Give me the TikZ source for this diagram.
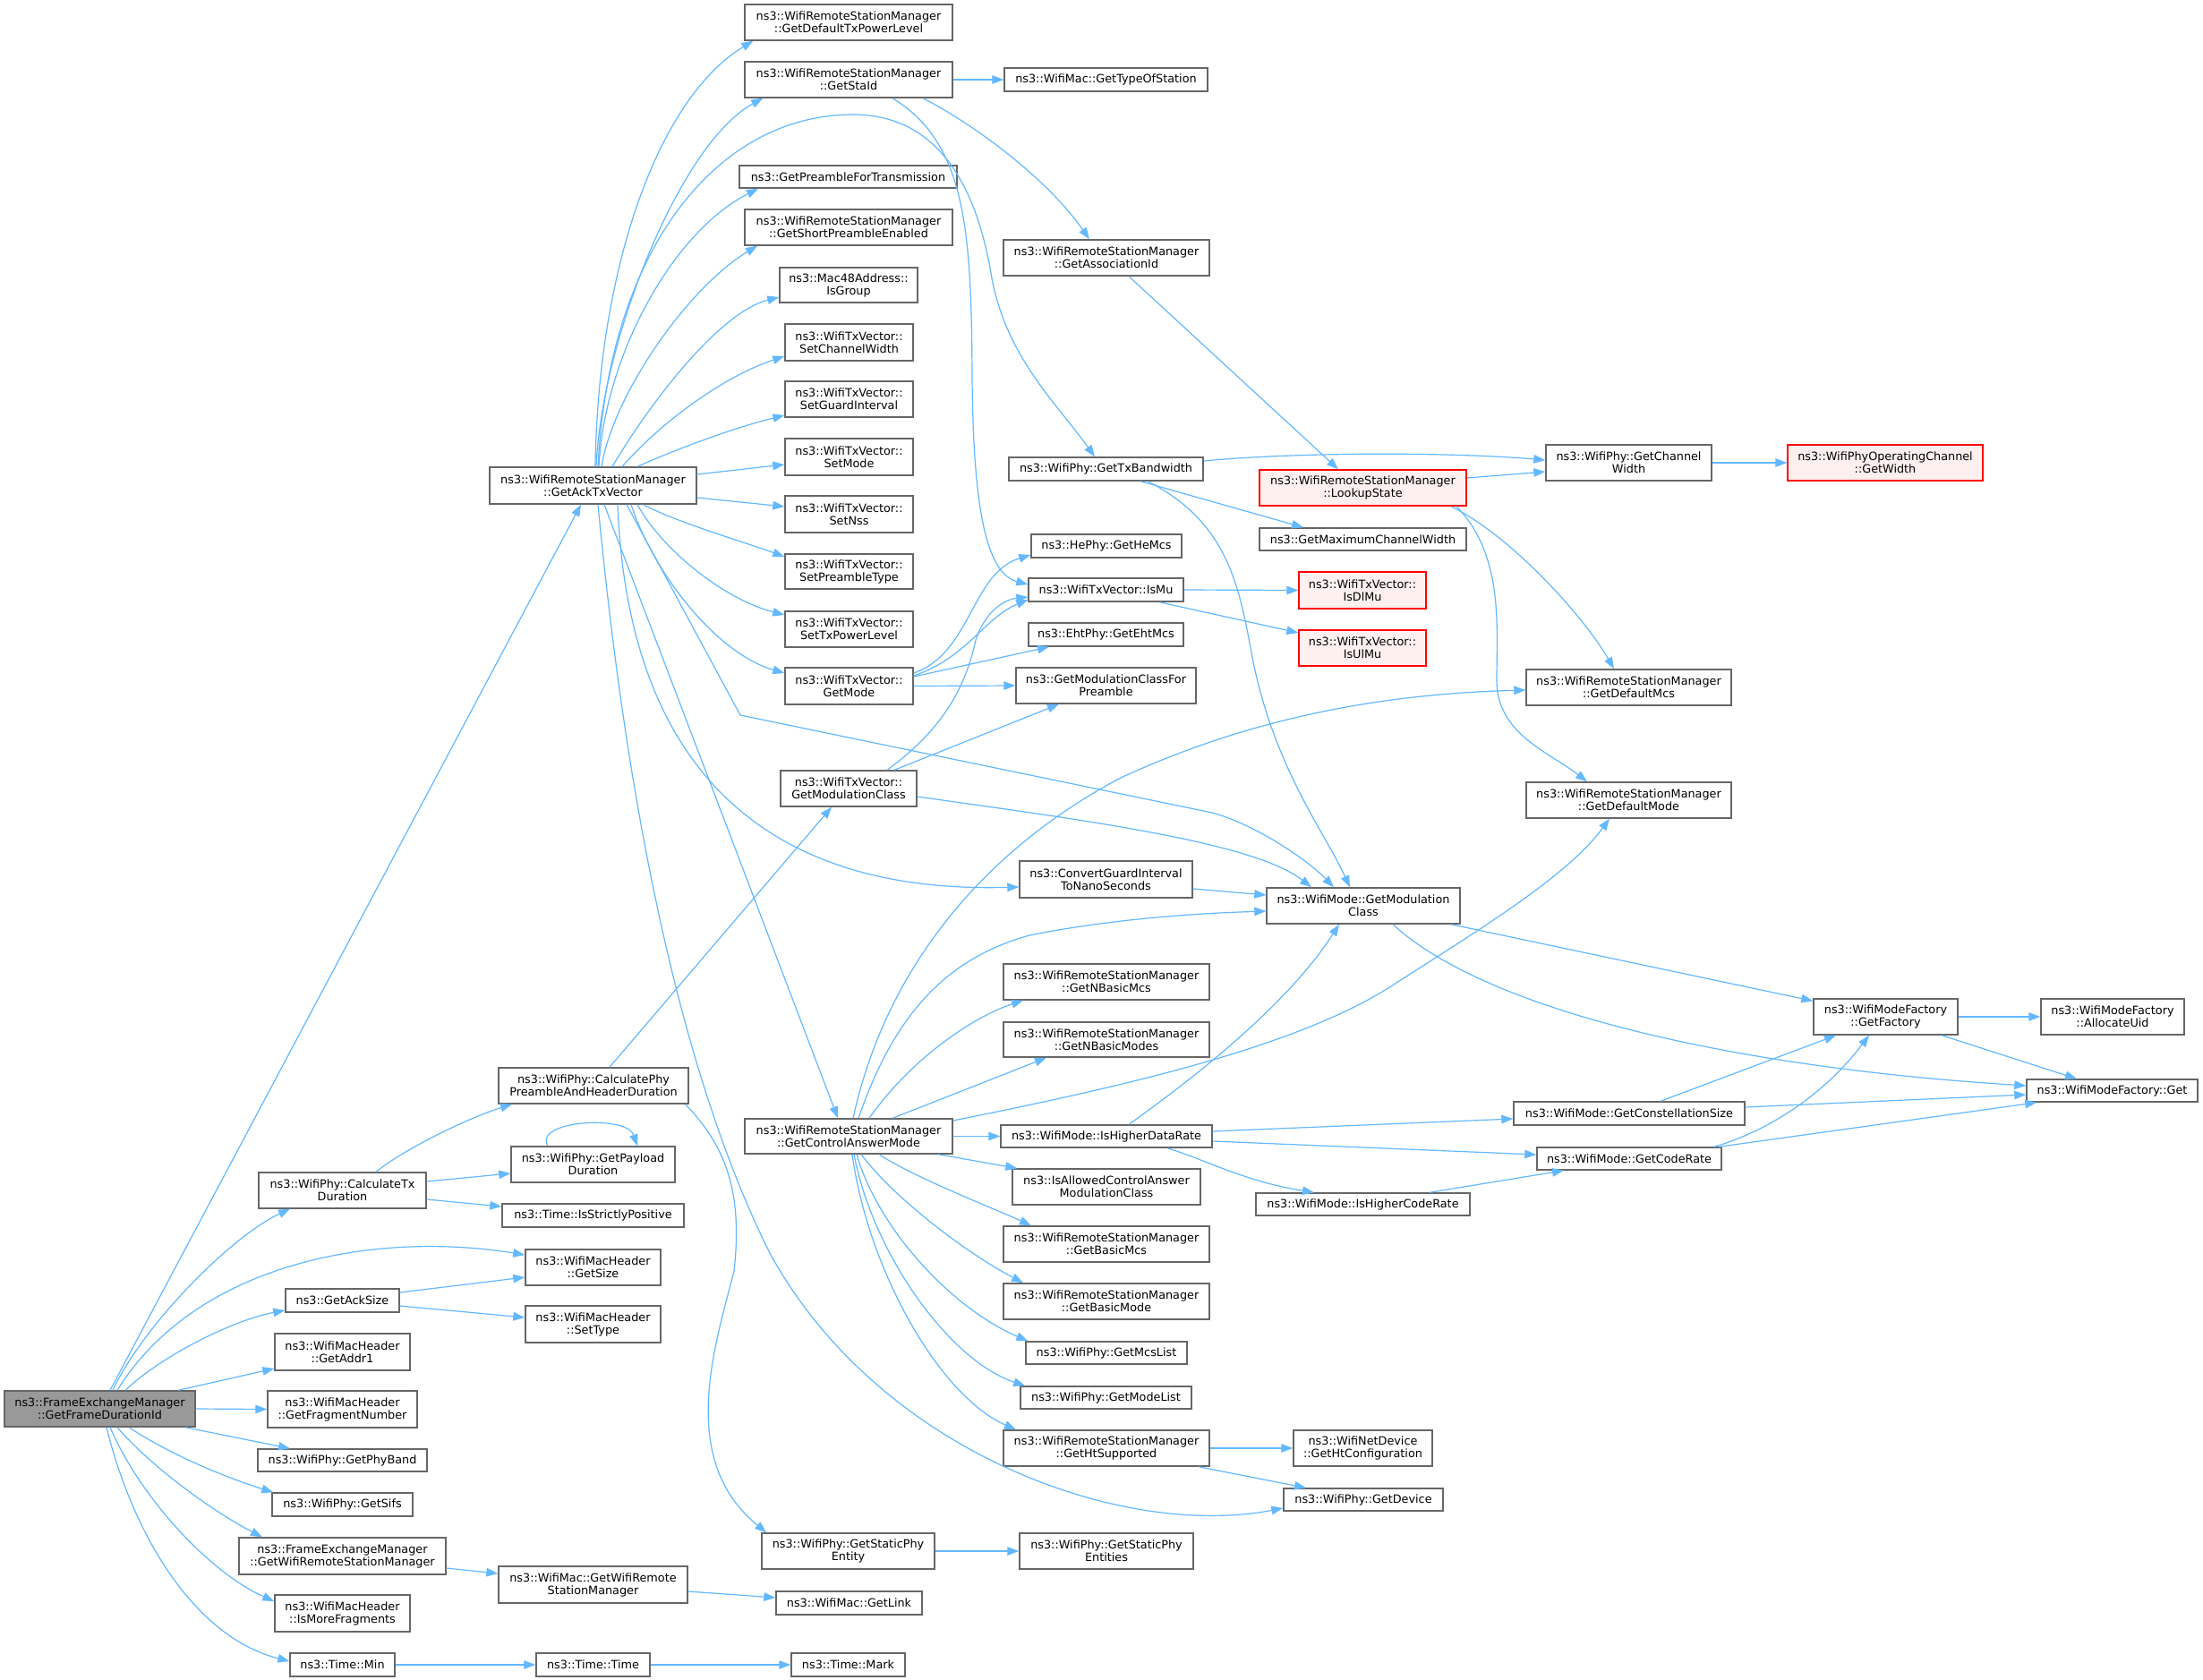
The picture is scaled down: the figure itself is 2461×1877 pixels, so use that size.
\documentclass[tikz,border=0pt]{standalone}
\usepackage{fontspec}
\setmainfont{DejaVu Sans}
\usetikzlibrary{arrows.meta}
\definecolor{edgeblue}{HTML}{63B8FF}
\definecolor{boxgray}{HTML}{666666}
\definecolor{rootgray}{HTML}{999999}
\definecolor{redfill}{HTML}{FFF0F0}
\tikzset{
  box/.style={draw=boxgray, fill=white, line width=1.4pt, inner sep=0pt, align=center,
    font=\fontsize{12.8pt}{14pt}\selectfont},
  redbox/.style={box, draw=red},
  redboxf/.style={box, draw=red, fill=redfill},
  rootbox/.style={box, fill=rootgray},
  edge/.style={draw=edgeblue, line width=1.2pt, -{Triangle[length=13pt,width=9.5pt]}}
}
\newcommand{\nd}[7][box]{\node[#1,minimum width={#5-#3},minimum height={#6-#4}] (#2) at ({(#3+#5)/2},{(#4+#6)/2}) {#7};}
\begin{document}
\begin{tikzpicture}[x=1pt,y=-1pt]
\useasboundingbox[fill=white] (0,0) rectangle (2461,1877);
% column 1
\nd[rootbox]{fdi}{5}{1554}{218}{1594}{ns3::FrameExchangeManager\\::GetFrameDurationId}
% column 2
\nd{ctd}{289}{1310}{476}{1350}{ns3::WifiPhy::CalculateTx\\Duration}
\nd{gas}{319}{1440}{446}{1466}{ns3::GetAckSize}
\nd{ga1}{307}{1490}{458}{1531}{ns3::WifiMacHeader\\::GetAddr1}
\nd{gfn}{299}{1554}{466}{1595}{ns3::WifiMacHeader\\::GetFragmentNumber}
\nd{gpb}{288}{1619}{477}{1644}{ns3::WifiPhy::GetPhyBand}
\nd{gsf}{304}{1668}{461}{1694}{ns3::WifiPhy::GetSifs}
\nd{fwm}{267}{1718}{498}{1759}{ns3::FrameExchangeManager\\::GetWifiRemoteStationManager}
\nd{imf}{307}{1782}{458}{1823}{ns3::WifiMacHeader\\::IsMoreFragments}
\nd{tmin}{324}{1847}{441}{1873}{ns3::Time::Min}
% column 3
\nd{atx}{547}{522}{778}{563}{ns3::WifiRemoteStationManager\\::GetAckTxVector}
\nd{cph}{557}{1193}{769}{1233}{ns3::WifiPhy::CalculatePhy\\PreambleAndHeaderDuration}
\nd{gpd}{571}{1281}{754}{1321}{ns3::WifiPhy::GetPayload\\Duration}
\nd{isp}{561}{1345}{764}{1371}{ns3::Time::IsStrictlyPositive}
\nd{gsz}{587}{1396}{738}{1436}{ns3::WifiMacHeader\\::GetSize}
\nd{sty}{587}{1459}{738}{1500}{ns3::WifiMacHeader\\::SetType}
\nd{wgm}{557}{1750}{768}{1791}{ns3::WifiMac::GetWifiRemote\\StationManager}
\nd{ttm}{599}{1847}{726}{1873}{ns3::Time::Time}
% column 4
\nd{gdtp}{832}{5}{1064}{45}{ns3::WifiRemoteStationManager\\::GetDefaultTxPowerLevel}
\nd{gsi}{832}{69}{1064}{109}{ns3::WifiRemoteStationManager\\::GetStaId}
\nd{gpt}{826}{185}{1069}{210}{ns3::GetPreambleForTransmission}
\nd{gsp}{832}{234}{1064}{274}{ns3::WifiRemoteStationManager\\::GetShortPreambleEnabled}
\nd{igr}{871}{299}{1025}{338}{ns3::Mac48Address::\\IsGroup}
\nd{scw}{877}{362}{1020}{403}{ns3::WifiTxVector::\\SetChannelWidth}
\nd{sgi}{877}{426}{1020}{466}{ns3::WifiTxVector::\\SetGuardInterval}
\nd{smd}{877}{490}{1020}{531}{ns3::WifiTxVector::\\SetMode}
\nd{sns}{877}{554}{1020}{595}{ns3::WifiTxVector::\\SetNss}
\nd{spt}{877}{619}{1020}{658}{ns3::WifiTxVector::\\SetPreambleType}
\nd{stp}{877}{683}{1020}{723}{ns3::WifiTxVector::\\SetTxPowerLevel}
\nd{gmd}{877}{746}{1020}{787}{ns3::WifiTxVector::\\GetMode}
\nd{gmc}{872}{861}{1024}{901}{ns3::WifiTxVector::\\GetModulationClass}
\nd{gcam}{832}{1250}{1064}{1289}{ns3::WifiRemoteStationManager\\::GetControlAnswerMode}
\nd{gspe}{851}{1713}{1044}{1753}{ns3::WifiPhy::GetStaticPhy\\Entity}
\nd{glk}{867}{1778}{1030}{1804}{ns3::WifiMac::GetLink}
\nd{tmk}{884}{1847}{1011}{1873}{ns3::Time::Mark}
% column 5
\nd{gts}{1122}{76}{1349}{102}{ns3::WifiMac::GetTypeOfStation}
\nd{gai}{1121}{268}{1351}{308}{ns3::WifiRemoteStationManager\\::GetAssociationId}
\nd{gtb}{1127}{511}{1344}{537}{ns3::WifiPhy::GetTxBandwidth}
\nd{ghm}{1152}{597}{1320}{623}{ns3::HePhy::GetHeMcs}
\nd{imu}{1149}{646}{1322}{672}{ns3::WifiTxVector::IsMu}
\nd{gem}{1149}{696}{1322}{722}{ns3::EhtPhy::GetEhtMcs}
\nd{gmcp}{1135}{746}{1336}{786}{ns3::GetModulationClassFor\\Preamble}
\nd{cgi}{1139}{962}{1332}{1003}{ns3::ConvertGuardInterval\\ToNanoSeconds}
\nd{gnbm}{1121}{1077}{1351}{1117}{ns3::WifiRemoteStationManager\\::GetNBasicMcs}
\nd{gnbmd}{1121}{1142}{1351}{1181}{ns3::WifiRemoteStationManager\\::GetNBasicModes}
\nd{ihdr}{1118}{1257}{1354}{1282}{ns3::WifiMode::IsHigherDataRate}
\nd{iacm}{1131}{1306}{1341}{1346}{ns3::IsAllowedControlAnswer\\ModulationClass}
\nd{gbmc}{1121}{1370}{1351}{1410}{ns3::WifiRemoteStationManager\\::GetBasicMcs}
\nd{gbmd}{1121}{1434}{1351}{1474}{ns3::WifiRemoteStationManager\\::GetBasicMode}
\nd{gmcl}{1146}{1499}{1326}{1524}{ns3::WifiPhy::GetMcsList}
\nd{gml}{1140}{1549}{1331}{1574}{ns3::WifiPhy::GetModeList}
\nd{ghs}{1121}{1598}{1351}{1638}{ns3::WifiRemoteStationManager\\::GetHtSupported}
\nd{gspes}{1139}{1713}{1333}{1753}{ns3::WifiPhy::GetStaticPhy\\Entities}
% column 6
\nd[redboxf]{lks}{1407}{525}{1638}{565}{ns3::WifiRemoteStationManager\\::LookupState}
\nd{gmcw}{1407}{590}{1638}{615}{ns3::GetMaximumChannelWidth}
\nd[redboxf]{idl}{1451}{639}{1593}{680}{ns3::WifiTxVector::\\IsDlMu}
\nd[redboxf]{iul}{1451}{704}{1593}{744}{ns3::WifiTxVector::\\IsUlMu}
\nd{wgmc}{1415}{992}{1631}{1032}{ns3::WifiMode::GetModulation\\Class}
\nd{ihcr}{1403}{1333}{1642}{1358}{ns3::WifiMode::IsHigherCodeRate}
\nd{ghc}{1445}{1598}{1600}{1638}{ns3::WifiNetDevice\\::GetHtConfiguration}
\nd{gdv}{1434}{1663}{1612}{1688}{ns3::WifiPhy::GetDevice}
% column 7
\nd{gcw}{1727}{497}{1912}{537}{ns3::WifiPhy::GetChannel\\Width}
\nd{gdm}{1705}{748}{1934}{788}{ns3::WifiRemoteStationManager\\::GetDefaultMcs}
\nd{gdmo}{1705}{874}{1934}{914}{ns3::WifiRemoteStationManager\\::GetDefaultMode}
\nd{gcs}{1691}{1231}{1949}{1257}{ns3::WifiMode::GetConstellationSize}
\nd{gcr}{1717}{1282}{1923}{1307}{ns3::WifiMode::GetCodeRate}
% column 8
\nd[redboxf]{gw}{1997}{497}{2215}{537}{ns3::WifiPhyOperatingChannel\\::GetWidth}
\nd{gf}{2026}{1116}{2187}{1156}{ns3::WifiModeFactory\\::GetFactory}
% column 9
\nd{au}{2280}{1116}{2440}{1156}{ns3::WifiModeFactory\\::AllocateUid}
\nd{gt}{2264}{1206}{2455}{1231}{ns3::WifiModeFactory::Get}

% ---- edges from GetFrameDurationId
\draw[edge] ([xshift=11.5pt]fdi.north) -- ([xshift=-13.5pt]atx.south);
\draw[edge] ([xshift=14.5pt]fdi.north) .. controls (160,1480) and (260,1380) .. ([xshift=-58.5pt]ctd.south);
\draw[edge] ([xshift=19.5pt]fdi.north) .. controls (220,1410) and (420,1375) .. ([yshift=14pt]gsz.west);
\draw[edge] ([xshift=28.5pt]fdi.north) .. controls (180,1515) and (260,1475) .. ([yshift=-11pt]gas.west);
\draw[edge] ([xshift=87.5pt]fdi.north) -- ([yshift=-18.5pt]ga1.west);
\draw[edge] (fdi.east) -- (gfn.west);
\draw[edge] ([xshift=95.5pt]fdi.south) -- ([xshift=-58.5pt]gpb.north);
\draw[edge] ([xshift=32.5pt]fdi.south) .. controls (190,1625) and (250,1650) .. ([xshift=2pt]gsf.north west);
\draw[edge] ([xshift=19.5pt]fdi.south) .. controls (170,1640) and (240,1690) .. ([xshift=-89.5pt]fwm.north);
\draw[edge] ([xshift=11.5pt]fdi.south) .. controls (160,1680) and (240,1760) .. ([yshift=13.5pt]imf.west);
\draw[edge] ([xshift=7.5pt]fdi.south) .. controls (150,1720) and (220,1830) .. ([yshift=4pt]tmin.west);
% ---- column 2 edges
\draw[edge] ([xshift=37.5pt]ctd.north) .. controls (450,1285) and (520,1250) .. ([xshift=-91pt]cph.south);
\draw[edge] ([yshift=10pt]ctd.east) -- ([yshift=-10pt]gpd.west);
\draw[edge] ([yshift=-10pt]ctd.east) -- ([yshift=10pt]isp.west);
\draw[edge] ([xshift=-50.5pt]gpd.north) .. controls (595,1252) and (700,1245) .. ([xshift=49.5pt]gpd.north);
\draw[edge] ([yshift=9pt]gas.east) -- ([yshift=-11pt]gsz.west);
\draw[edge] ([yshift=-6pt]gas.east) -- ([yshift=7.5pt]sty.west);
\draw[edge] ([yshift=-13.5pt]fwm.east) -- ([yshift=12.5pt]wgm.west);
\draw[edge] ([yshift=-7.5pt]wgm.east) -- ([yshift=6pt]glk.west);
\draw[edge] (tmin.east) -- (ttm.west);
\draw[edge] (ttm.east) -- (tmk.west);
% ---- CalculatePhyPreamble
\draw[edge] ([xshift=18pt]cph.north) -- ([xshift=-19pt]gmc.south);
\draw[edge] ([xshift=-4pt]cph.south east) .. controls (810,1280) and (830,1330) .. (820,1420) .. controls (800,1500) and (755,1630) .. ([xshift=6pt]gspe.north west);
% ---- GetAckTxVector
\draw[edge] ([xshift=2.5pt]atx.north) .. controls (668,300) and (735,110) .. ([xshift=10pt]gdtp.south west);
\draw[edge] ([xshift=3.5pt]atx.north) .. controls (672,380) and (760,160) .. ([xshift=21pt]gsi.south west);
\draw[edge] ([xshift=5.5pt]atx.north) .. controls (680,280) and (800,128) .. (953,128) .. controls (1060,128) and (1095,230) .. (1108,311) .. controls (1125,400) and (1180,450) .. ([xshift=-12.5pt]gtb.north);
\draw[edge] ([xshift=6.5pt]atx.north) .. controls (675,400) and (750,260) .. ([xshift=-100.5pt]gpt.south);
\draw[edge] ([xshift=9.5pt]atx.north) .. controls (685,440) and (770,320) .. ([xshift=-102pt]gsp.south);
\draw[edge] ([xshift=21.5pt]atx.north) .. controls (720,460) and (800,350) .. ([yshift=-13.5pt]igr.west);
\draw[edge] ([xshift=32.5pt]atx.north) .. controls (740,470) and (810,420) .. ([yshift=-15.5pt]scw.west);
\draw[edge] ([xshift=49.5pt]atx.north) .. controls (760,500) and (820,478) .. ([yshift=-18pt]sgi.west);
\draw[edge] ([yshift=12.5pt]atx.east) -- ([yshift=-8.5pt]smd.west);
\draw[edge] ([yshift=-13.5pt]atx.east) -- ([yshift=8.5pt]sns.west);
\draw[edge] ([xshift=55.5pt]atx.south) .. controls (760,585) and (830,605) .. ([yshift=16.5pt]spt.west);
\draw[edge] ([xshift=49.5pt]atx.south) .. controls (740,615) and (810,670) .. ([yshift=16pt]stp.west);
\draw[edge] ([xshift=42.5pt]atx.south) .. controls (730,640) and (800,730) .. ([yshift=14.5pt]gmd.west);
\draw[edge] ([xshift=37.5pt]atx.south) -- (827,799) -- (1354,908) .. controls (1400,920) and (1460,960) .. ([xshift=-33pt]wgmc.north);
\draw[edge] ([xshift=27.5pt]atx.south) .. controls (700,820) and (820,1000) .. ([yshift=-8.5pt]cgi.west);
\draw[edge] ([xshift=12.5pt]atx.south) -- ([xshift=-12pt]gcam.north);
\draw[edge] ([xshift=5.5pt]atx.south) .. controls (700,900) and (760,1200) .. (860,1400) .. controls (980,1620) and (1250,1720) .. ([yshift=-9.5pt]gdv.west);
% ---- GetStaId etc.
\draw[edge] (gsi.east) -- (gts.west);
\draw[edge] ([xshift=49pt]gsi.south) .. controls (1080,160) and (1085,260) .. (1086,420) .. controls (1087,560) and (1100,640) .. ([yshift=6pt]imu.west);
\draw[edge] ([xshift=83pt]gsi.south) .. controls (1090,140) and (1170,200) .. ([xshift=-19pt]gai.north);
\draw[edge] ([xshift=25pt]gai.south) -- ([xshift=-27.5pt]lks.north);
\draw[edge] ([yshift=9pt]gtb.east) .. controls (1450,505) and (1620,505) .. ([yshift=3pt]gcw.west);
\draw[edge] ([xshift=38.5pt]gtb.south) -- ([xshift=-66.5pt]gmcw.north);
\draw[edge] ([xshift=46.5pt]gtb.south) .. controls (1375,585) and (1385,660) .. (1400,740) .. controls (1425,860) and (1480,930) .. ([xshift=-15pt]wgmc.north);
\draw[edge] ([yshift=11pt]lks.east) -- ([yshift=-10pt]gcw.west);
\draw[edge] ([xshift=98.5pt]lks.south) .. controls (1690,600) and (1770,690) .. ([xshift=-16.5pt]gdm.north);
\draw[edge] ([xshift=104.5pt]lks.south) .. controls (1680,620) and (1672,700) .. (1672,760) .. controls (1672,820) and (1730,840) .. ([xshift=-46.5pt]gdmo.north);
\draw[edge] (gcw.east) -- (gw.west);
\draw[edge] (imu.east) -- (idl.west);
\draw[edge] ([xshift=59.5pt]imu.south) -- ([yshift=17pt]iul.west);
% ---- GetMode / GetModulationClass
\draw[edge] ([yshift=14.5pt]gmd.east) .. controls (1085,730) and (1085,640) .. ([yshift=-10pt]ghm.west);
\draw[edge] ([yshift=11.5pt]gmd.east) .. controls (1080,735) and (1100,690) .. ([yshift=-11pt]imu.west);
\draw[edge] ([yshift=10.5pt]gmd.east) -- ([xshift=-63.5pt]gem.south);
\draw[edge] (gmd.east) -- (gmcp.west);
\draw[edge] ([xshift=43pt]gmc.north) .. controls (1060,810) and (1080,760) .. (1090,715) .. controls (1100,685) and (1120,670) .. ([yshift=-8pt]imu.west);
\draw[edge] ([xshift=51pt]gmc.north) -- ([xshift=-52.5pt]gmcp.south);
\draw[edge] ([yshift=-9pt]gmc.east) .. controls (1200,915) and (1400,940) .. ([xshift=-58pt]wgmc.north);
\draw[edge] ([yshift=-10.5pt]cgi.east) -- ([yshift=12pt]wgmc.west);
% ---- GetControlAnswerMode
\draw[edge] ([xshift=5pt]gcam.north) .. controls (990,1080) and (1100,950) .. (1250,870) .. controls (1400,800) and (1550,775) .. ([yshift=-3pt]gdm.west);
\draw[edge] ([xshift=11pt]gcam.north) .. controls (1000,1130) and (1060,1070) .. (1150,1045) .. controls (1250,1025) and (1350,1020) .. ([yshift=-6pt]wgmc.west);
\draw[edge] ([xshift=23pt]gcam.north) .. controls (1020,1180) and (1090,1135) .. ([xshift=-93pt]gnbm.south);
\draw[edge] ([xshift=49pt]gcam.north) -- ([xshift=-67pt]gnbmd.south);
\draw[edge] ([yshift=17.5pt]gcam.east) .. controls (1250,1215) and (1450,1170) .. (1557,1100) .. controls (1650,1040) and (1750,980) .. ([xshift=-21.5pt]gdmo.south);
\draw[edge] (gcam.east) -- (ihdr.west);
\draw[edge] ([xshift=100pt]gcam.south) -- ([xshift=6pt]iacm.north west);
\draw[edge] ([xshift=34pt]gcam.south) .. controls (1020,1315) and (1110,1350) .. ([xshift=-84pt]gbmc.north);
\draw[edge] ([xshift=14pt]gcam.south) .. controls (1000,1340) and (1080,1400) .. ([xshift=-93pt]gbmd.north);
\draw[edge] ([xshift=9pt]gcam.south) .. controls (980,1370) and (1060,1460) .. ([xshift=3pt]gmcl.north west);
\draw[edge] ([xshift=6pt]gcam.south) .. controls (975,1400) and (1060,1520) .. ([xshift=6pt]gml.north west);
\draw[edge] ([xshift=4pt]gcam.south) .. controls (970,1420) and (1050,1560) .. ([xshift=-101pt]ghs.north);
% ---- IsHigherDataRate etc.
\draw[edge] ([xshift=25pt]ihdr.north) .. controls (1340,1200) and (1440,1120) .. ([xshift=-27pt]wgmc.south);
\draw[edge] ([yshift=5.5pt]ihdr.east) -- ([yshift=-6pt]gcs.west);
\draw[edge] ([yshift=-5.5pt]ihdr.east) -- ([yshift=4.5pt]gcr.west);
\draw[edge] ([xshift=68pt]ihdr.south) .. controls (1345,1295) and (1390,1320) .. ([xshift=-54.5pt]ihcr.north);
\draw[edge] ([xshift=74.5pt]ihcr.north) -- ([xshift=-73pt]gcr.south);
\draw[edge] (ghs.east) -- (ghc.west);
\draw[edge] ([xshift=-13pt]ghs.south east) -- ([xshift=-64pt]gdv.north);
\draw[edge] (gspe.east) -- (gspes.west);
% ---- WifiMode / Factory
\draw[edge] ([xshift=-11pt]wgmc.south east) -- ([yshift=-3pt]gf.north west);
\draw[edge] ([xshift=33pt]wgmc.south) .. controls (1650,1120) and (1900,1190) .. ([yshift=5.5pt]gt.west);
\draw[edge] (gf.east) -- (au.west);
\draw[edge] ([xshift=62.5pt]gf.south) -- ([xshift=-39.5pt]gt.north);
\draw[edge] ([xshift=35pt]gcs.north) -- ([xshift=-55.5pt]gf.south);
\draw[edge] ([yshift=7pt]gcs.east) -- ([yshift=-4.5pt]gt.west);
\draw[edge] ([xshift=95pt]gcr.north) .. controls (1980,1262) and (2040,1220) .. ([xshift=-18.5pt]gf.south);
\draw[edge] ([xshift=100pt]gcr.north) -- ([xshift=12pt]gt.south west);
\end{tikzpicture}
\end{document}
